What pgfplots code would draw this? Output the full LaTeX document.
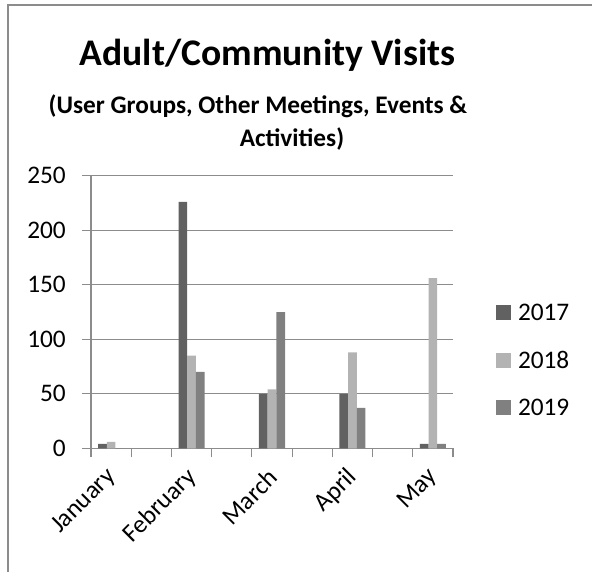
\documentclass[border=0pt]{standalone}
\usepackage{fontspec}
\setmainfont{Carlito}
\usepackage{pgfplots}
\pgfplotsset{compat=1.18}

\definecolor{c2017}{HTML}{616161}
\definecolor{c2018}{HTML}{B3B3B3}
\definecolor{c2019}{HTML}{808080}
\definecolor{gridgray}{HTML}{8C8C8C}

\begin{document}
\begin{tikzpicture}[x=1pt,y=1pt]
\useasboundingbox (0,0) rectangle (592,571);
% chart frame (only left and top edges fall inside the picture)
\draw[gridgray, line width=1.5pt] (8,-2) -- (8,566) -- (594,566);

\node[font=\bfseries\fontsize{37.6}{40}\selectfont, anchor=base] at (267.5,505) {Adult/Community Visits};
\node[font=\bfseries\fontsize{25.3}{28}\selectfont, anchor=base] at (258,457) {(User Groups, Other Meetings, Events \&};
\node[font=\bfseries\fontsize{25.3}{28}\selectfont, anchor=base] at (292,424) {Activities)};

\begin{axis}[
    at={(91pt,122.7pt)}, anchor=south west,
    scale only axis,
    width=362pt, height=272.6pt,
    ybar=0pt, bar width=8.7pt,
    xmin=-0.5, xmax=8.5,
    ymin=0, ymax=250,
    axis lines*=left,
    axis line style={gridgray, line width=1.2pt},
    ymajorgrids,
    grid style={gridgray, line width=1.2pt},
    ytick={0,50,...,250},
    xtick={-0.5,0.5,...,8.5},
    xticklabel=\empty,
    extra x ticks={0,2,4,6,8},
    extra x tick labels={January,February,March,April,May},
    extra x tick style={
        major tick length=0pt,
        tick label style={xshift=1pt, yshift=-25pt, rotate=45, anchor=east, inner sep=0pt}},
    tick align=outside,
    major tick length=9pt,
    tick style={gridgray, line width=1.2pt},
    yticklabel style={anchor=east, inner sep=0pt, xshift=-16pt},
    tick label style={font=\fontsize{25.3}{28}\selectfont},
    /pgf/number format/assume math mode=true,
    legend style={at={(1.1188,0.5268)}, anchor=north west, draw=none,
        inner sep=0pt, outer sep=0pt, row sep=31.5pt,
        font=\fontsize{25.3}{28}\selectfont,
        nodes={inner sep=0pt, text height=16pt, text depth=0pt},
        /tikz/every odd column/.append style={column sep=7pt}},
    legend cell align=left,
    legend image code/.code={\fill[#1] (0pt,-7.5pt) rectangle (15pt,7.5pt);},
]
\addplot[fill=c2017, draw=none] coordinates {(0,4) (2,226) (4,50) (6,50) (8,4)};
\addplot[fill=c2018, draw=none] coordinates {(0,6) (2,85) (4,54) (6,88) (8,156)};
\addplot[fill=c2019, draw=none] coordinates {(0,0) (2,70) (4,125) (6,37) (8,4)};
\legend{2017,2018,2019}
\end{axis}
\end{tikzpicture}
\end{document}
